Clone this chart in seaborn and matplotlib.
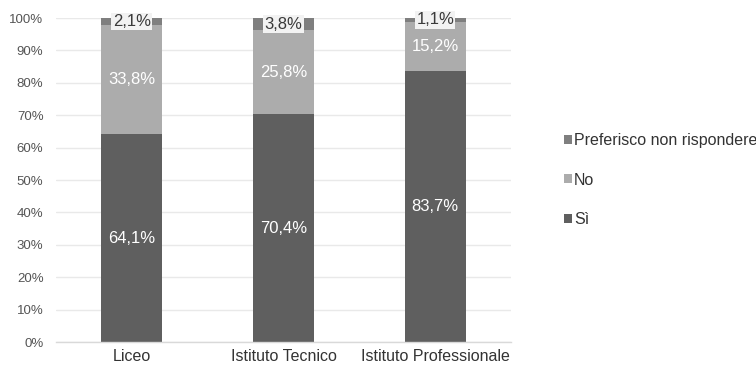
import matplotlib
matplotlib.use("Agg")
import matplotlib.pyplot as plt
from matplotlib.patches import Patch
import seaborn as sns
import pandas as pd
import numpy as np

categories = ["Liceo", "Istituto Tecnico", "Istituto Professionale"]
si = [64.1, 70.4, 83.7]
no = [33.8, 25.8, 15.2]
preferisco = [2.1, 3.8, 1.1]
series_names = ["Sì", "No", "Preferisco non rispondere"]
yticks = [0, 10, 20, 30, 40, 50, 60, 70, 80, 90, 100]

colors = {"Sì": "#5f5f5f", "No": "#acacac", "Preferisco non rispondere": "#7f7f7f"}

sns.set_theme(style="white")
plt.rcParams["font.family"] = ["Liberation Sans", "DejaVu Sans"]

df = pd.DataFrame({"cat": categories, "si": si, "no": no, "pref": preferisco})
df["top_si"] = df["si"]
df["top_no"] = df["si"] + df["no"]
df["top_pref"] = df["si"] + df["no"] + df["pref"]

fig = plt.figure(figsize=(7.56, 3.69), dpi=100)
ax = fig.add_axes([0.074, 0.073, 0.602, 0.878])

# stacked bars drawn as overlapping cumulative totals
bw = 0.4
for col, name in [("top_pref", "Preferisco non rispondere"), ("top_no", "No"), ("top_si", "Sì")]:
    sns.barplot(data=df, x="cat", y=col, color=colors[name], width=bw,
                saturation=1, ax=ax, zorder=3, linewidth=0)

ax.set_ylim(0, 100)
ax.set_xlim(-0.5, 2.5)
ax.set_yticks(yticks)
ax.set_yticklabels([f"{t}%" for t in yticks], fontsize=9.5, color="#555555")
ax.tick_params(axis="y", length=0, pad=9)
ax.tick_params(axis="x", length=0, pad=5, labelsize=11.5, labelcolor="#333333")
ax.set_xlabel("")
ax.set_ylabel("")
ax.yaxis.grid(True, color="#e9e9e9", linewidth=1, zorder=0)
for s in ["top", "right", "left"]:
    ax.spines[s].set_visible(False)
ax.spines["bottom"].set_color("#d9d9d9")
ax.spines["bottom"].set_linewidth(1)
ax.spines["bottom"].set_zorder(4)

def fmt(v):
    return f"{v:.1f}%".replace(".", ",")

for i in range(len(categories)):
    ax.text(i, si[i] / 2, fmt(si[i]), ha="center", va="center",
            color="white", fontsize=12, zorder=5)
    ax.text(i, si[i] + no[i] / 2, fmt(no[i]), ha="center", va="center",
            color="white", fontsize=12, zorder=5)
    ax.text(i, si[i] + no[i] + preferisco[i] / 2, fmt(preferisco[i]),
            ha="center", va="center", color="#3a3a3a", fontsize=12, zorder=6,
            bbox=dict(boxstyle="square,pad=0.08", facecolor="#f2f2f2", edgecolor="none"))

handles = [Patch(facecolor=colors[n], edgecolor="none") for n in reversed(series_names)]
fig.legend(handles, list(reversed(series_names)), loc="center left",
           bbox_to_anchor=(0.735, 0.512), frameon=False, fontsize=11.5,
           handlelength=0.5, handleheight=0.5, handletextpad=0.15,
           labelspacing=1.55, borderpad=0, labelcolor="#333333")

fig.savefig("out.png", dpi=100)
